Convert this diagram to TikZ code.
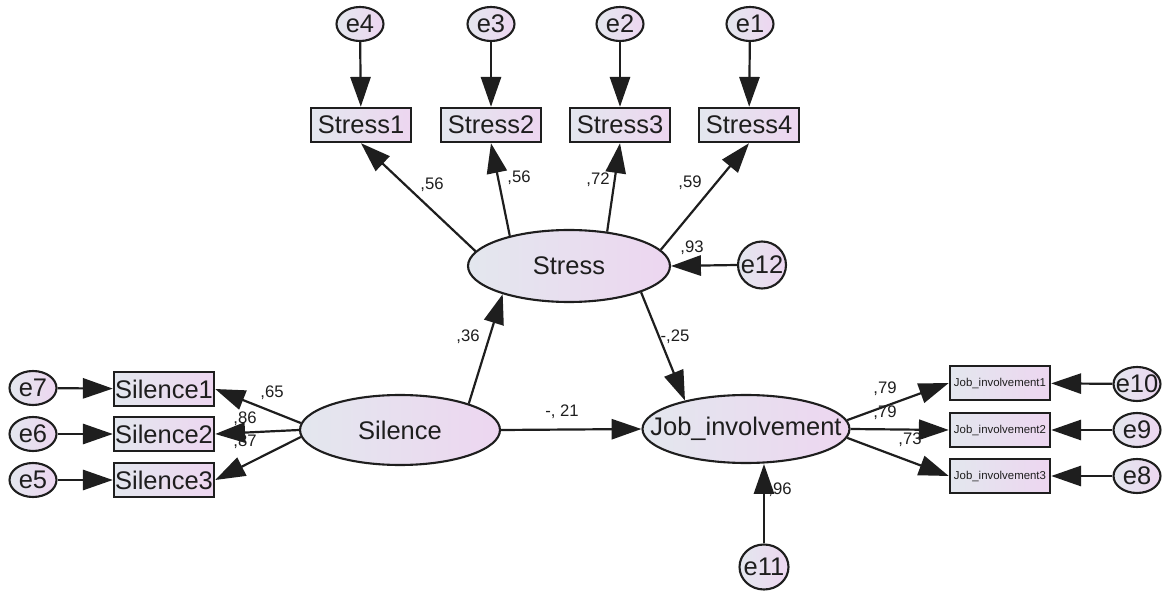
\documentclass[tikz,border=0pt]{standalone}
\usepackage{fontspec}
\setmainfont{Liberation Sans}
\usetikzlibrary{shapes.geometric,arrows.meta}
\definecolor{shadeL}{HTML}{E3E7EE}
\definecolor{shadeR}{HTML}{EDD6F0}
\definecolor{ink}{HTML}{1E1E1E}
\newcommand{\zw}[1]{\makebox[0pt]{#1}}

\begin{document}
\begin{tikzpicture}[x=0.02cm, y=-0.02cm, >={Triangle[length=17pt,width=11.5pt]},
  lat/.style={draw=ink, ellipse, line width=1.2pt, left color=shadeL, right color=shadeR, inner sep=0pt, text=ink, font=\fontsize{14.5}{17}\selectfont},
  err/.style={lat, minimum width=0.94cm, minimum height=0.68cm},
  obs/.style={draw=ink, rectangle, line width=1.4pt, left color=shadeL, right color=shadeR, inner sep=0pt, minimum width=2cm, minimum height=0.68cm, text=ink, font=\fontsize{14.5}{17}\selectfont},
  reg/.style={->, draw=ink, line width=1.25pt},
  wt/.style={text=ink, inner sep=1pt, font=\fontsize{9.5}{11}\selectfont}]
\useasboundingbox (0,0) rectangle (1164,591);
% latent variables
\node[lat, minimum width=4.04cm, minimum height=1.44cm] (stress) at (569,266) {\zw{Stress}};
\node[lat, minimum width=4.0cm, minimum height=1.4cm] (sil) at (400,430) {\zw{Silence}};
\node[lat, minimum width=4.14cm, minimum height=1.36cm] (job) at (746,429) {\zw{Job\_involvement}};
% stress indicators
\node[obs] (s1) at (361,125) {Stress1};
\node[obs] (s2) at (491,125) {Stress2};
\node[obs] (s3) at (620,125) {Stress3};
\node[obs] (s4) at (749,125) {Stress4};
\node[err] (e4) at (360,24) {\zw{e4}};
\node[err] (e3) at (491,24) {\zw{e3}};
\node[err] (e2) at (620,24) {\zw{e2}};
\node[err] (e1) at (750,24) {\zw{e1}};
% silence indicators
\node[obs] (sl1) at (164,389) {Silence1};
\node[obs] (sl2) at (164,434) {Silence2};
\node[obs] (sl3) at (164,480) {Silence3};
\node[err] (e7) at (33,388) {\zw{e7}};
\node[err] (e6) at (33,434) {\zw{e6}};
\node[err] (e5) at (33,480) {\zw{e5}};
% job involvement indicators
\node[obs, font=\fontsize{6.5}{7}\selectfont] (j1) at (1000,383) {Job\_involvement1};
\node[obs, font=\fontsize{6.5}{7}\selectfont] (j2) at (1000,430) {Job\_involvement2};
\node[obs, font=\fontsize{6.5}{7}\selectfont] (j3) at (1000,476) {Job\_involvement3};
\node[err] (e10) at (1137,384) {\zw{e10}};
\node[err] (e9) at (1137,430) {\zw{e9}};
\node[err] (e8) at (1137,476) {\zw{e8}};
% disturbances
\node[err, minimum width=0.96cm, minimum height=0.94cm] (e12) at (762,265) {\zw{e12}};
\node[err, minimum width=0.98cm, minimum height=0.9cm] (e11) at (764,567) {\zw{e11}};
% paths
\draw[reg] (e4) -- (s1);
\draw[reg] (e3) -- (s2);
\draw[reg] (e2) -- (s3);
\draw[reg] (e1) -- (s4);
\draw[reg] (stress.171) -- (s1.south);
\draw[reg] (stress.153) -- (s2.south);
\draw[reg] (stress.42) -- (s3.south);
\draw[reg] (stress.10) -- (s4.south);
\draw[reg] (e12.west) -- (stress.east);
\draw[reg] (sil.21) -- (stress.203);
\draw[reg] (stress.340) -- (job.155);
\draw[reg] (sil.east) -- (job.west);
\draw[reg] (e11.north) -- (e11.north |- job.south);
\draw[reg] (sil.176) -- (sl1.east);
\draw[reg] (sil.180) -- (sl2.east);
\draw[reg] (sil.184) -- (sl3.east);
\draw[reg] (e7) -- (sl1);
\draw[reg] (e6) -- (sl2);
\draw[reg] (e5) -- (sl3);
\draw[reg] (job.5) -- (j1.west);
\draw[reg] (job.east) -- (j2.west);
\draw[reg] (job.355) -- (j3.west);
\draw[reg] (e10) -- (j1);
\draw[reg] (e9) -- (j2);
\draw[reg] (e8) -- (j3);
% estimates
\node[wt] (w1) at (432,185) {,56};
\node[wt] (w2) at (519,178) {,56};
\node[wt] (w3) at (598,180) {,72};
\node[wt] (w4) at (690,183) {,59};
\node[wt] (w12) at (692,248) {,93};
\node[wt] (wss) at (468,337) {,36};
\node[wt] (wsj) at (675,337) {-,25};
\node[wt] (wlj) at (562,412) {-, 21};
\node[wt] (w11) at (780,490) {,96};
\node[wt] (w5) at (272,393) {,65};
\node[wt] (w6) at (245,419) {,86};
\node[wt] (w7) at (245,442) {,87};
\node[wt] (w8) at (885,389) {,79};
\node[wt] (w9) at (885,413) {,79};
\node[wt] (w10) at (910,440) {,73};
\end{tikzpicture}
\end{document}
